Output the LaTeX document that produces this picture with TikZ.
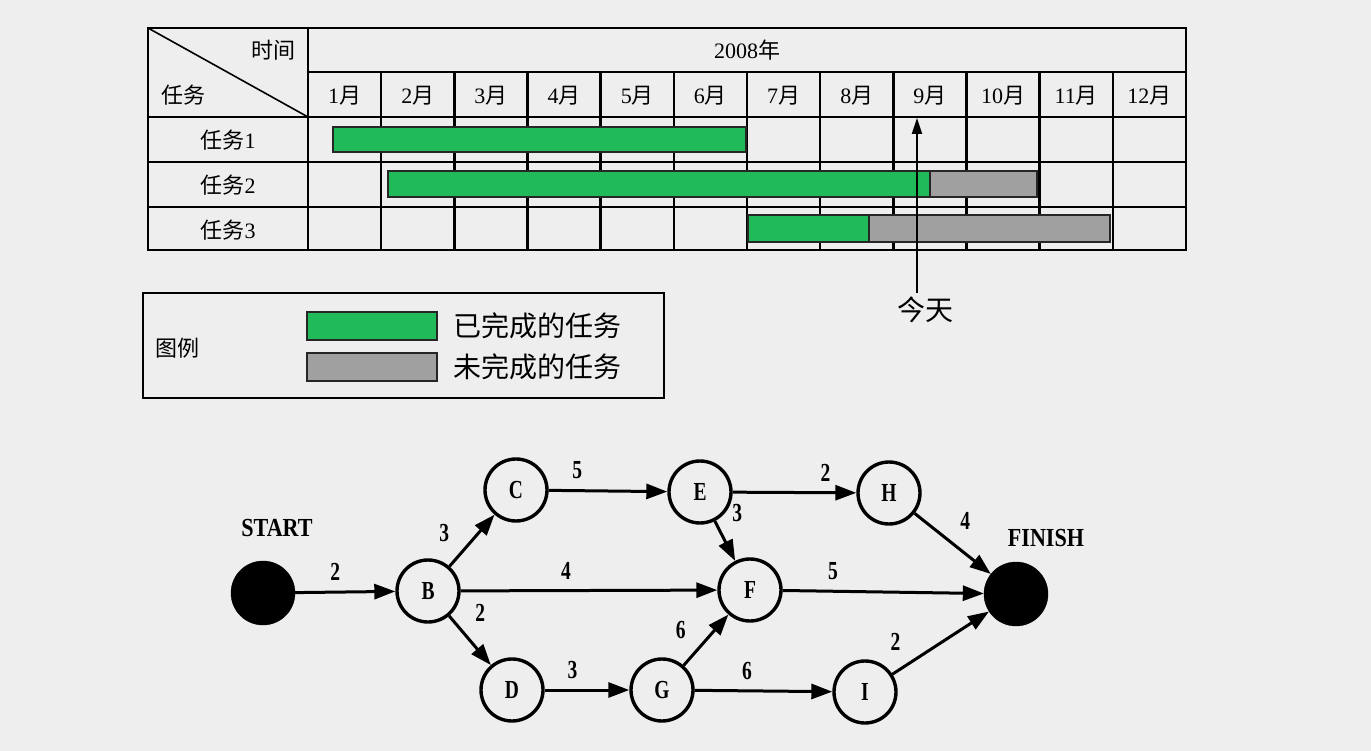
\documentclass[tikz,border=0pt]{standalone}
\usepackage{fontspec}
\setmainfont{Liberation Serif}
\newfontfamily\cjk{Noto Sans CJK SC}
\usepackage{tikz}
\usetikzlibrary{arrows.meta,positioning,calc}
\definecolor{bggray}{RGB}{238,238,238}
\definecolor{donegreen}{RGB}{33,186,88}
\definecolor{todogray}{RGB}{160,160,160}
\newcommand{\narrow}[1]{\scalebox{0.75}[1]{#1}}
\tikzstyle{vertex}=[circle,fill=bggray,draw,line width=3.4pt,minimum size=62pt,inner sep=0pt,font=\fontsize{26}{26}\selectfont\bfseries]
\tikzstyle{endvertex}=[circle,fill=black,draw,minimum size=64pt,inner sep=0pt]
\tikzstyle{edge} = [draw,line width=3pt,-{Triangle[length=21pt,width=15pt]}]
\tikzstyle{weight} = [font=\fontsize{26}{26}\selectfont\bfseries,inner sep=10pt]
\tikzstyle{endlabel} = [font=\fontsize{26}{26}\selectfont\bfseries]
\tikzstyle{grid}=[draw,line width=2.6pt]
\tikzstyle{cell}=[font=\fontsize{22}{22}\selectfont]
\tikzstyle{legendtext}=[font=\fontsize{28}{28}\selectfont\cjk]
\tikzstyle{bar}=[draw=black!85,line width=2pt]
\tikzstyle{keybar}=[bar,minimum width=130pt,minimum height=28pt,inner sep=0pt]

\begin{document}
\begin{tikzpicture}[x=1pt,y=-1pt,auto]
    \fill[bggray] (0,0) rectangle (1371,751);
    \useasboundingbox (0,0) rectangle (1371,751);
    % Gantt table: grid first
    \draw[grid] (148,28) rectangle (1186,250);
    \draw[grid] (308,28) -- (308,250);
    \draw[grid] (308,72) -- (1186,72);
    \foreach \y in {117,162,207}
        \draw[grid] (148,\y) -- (1186,\y);
    \foreach \i in {1,...,11}
        \draw[grid] ({308+73.17*\i},72) -- ({308+73.17*\i},250);
    \draw[line width=1.6pt] (148,28) -- (308,117);

    % Then the bars
    \draw[bar,fill=donegreen] (333,127) rectangle (746,152);
    \draw[bar,fill=donegreen] (388,171) rectangle (930,197);
    \draw[bar,fill=todogray] (930,171) rectangle (1037,197);
    \draw[bar,fill=donegreen] (748,215) rectangle (869,242);
    \draw[bar,fill=todogray] (869,215) rectangle (1110,242);

    % Header and row texts
    \node[cell] (timehead) at (273,50) {\cjk 时间};
    \node[cell] (taskhead) at (183,95) {\cjk 任务};
    \node[cell] (year) at (747,50) {2008{\cjk 年}};
    \foreach \i in {1,...,12}
        \node[cell] (m\i) at ({308+73.17*(\i-0.5)},96) {\i{\cjk 月}};
    \foreach \i/\y in {1/140,2/185,3/230}
        \node[cell] (task\i) at (228,\y) {{\cjk 任务}\i};

    % Today marker
    \node[legendtext] (today) at (925,310) {今天};
    \coordinate (now) at (917,118);
    \draw[line width=1.8pt,-{Triangle[length=16pt,width=10pt]}] (now |- today.north) -- (now);

    % Legend
    \draw[line width=2pt] (143,293) rectangle (664,398);
    \node[cell] (legend) at (177,348) {\cjk 图例};
    \node[keybar,fill=donegreen] (donekey) at (372,326) {};
    \node[keybar,fill=todogray] (todokey) at (372,367) {};
    \node[legendtext,right=12pt of donekey] (donetext) {已完成的任务};
    \node[legendtext,right=12pt of todokey] (todotext) {未完成的任务};

    % Network: vertices
    \foreach \pos/\name in {{(428,591)/B}, {(516,490)/C}, {(512,690)/D}, {(700,492)/E}, {(750,590)/F}, {(662,690)/G}, {(889,493)/H}, {(865,692)/I}}
        \node[vertex] (\name) at \pos {\narrow{\name}};
    \node[endvertex] (START) at (263,593) {};
    \node[endvertex] (FINISH) at (1016,594) {};
    \node[endlabel] (startlabel) at (277,528) {\scalebox{0.85}[1]{START}};
    \node[endlabel] (finishlabel) at (1046,538) {\scalebox{0.85}[1]{FINISH}};
    % Connect vertices with edges and draw weights
    \foreach \source/\dest/\weight/\p in {START/B/2/0.4, B/C/3/0.25, C/E/5/0.24, E/H/2/0.75, B/F/4/0.41, E/F/3/0.3, F/FINISH/5/0.25, H/FINISH/4/0.45, B/D/2/0.35, D/G/3/0.33, G/F/6/0.3, G/I/6/0.38, I/FINISH/2/0.2}
        \path[edge] (\source) -- node[weight,pos=\p] {\narrow{\weight}} (\dest);
\end{tikzpicture}
\end{document}
